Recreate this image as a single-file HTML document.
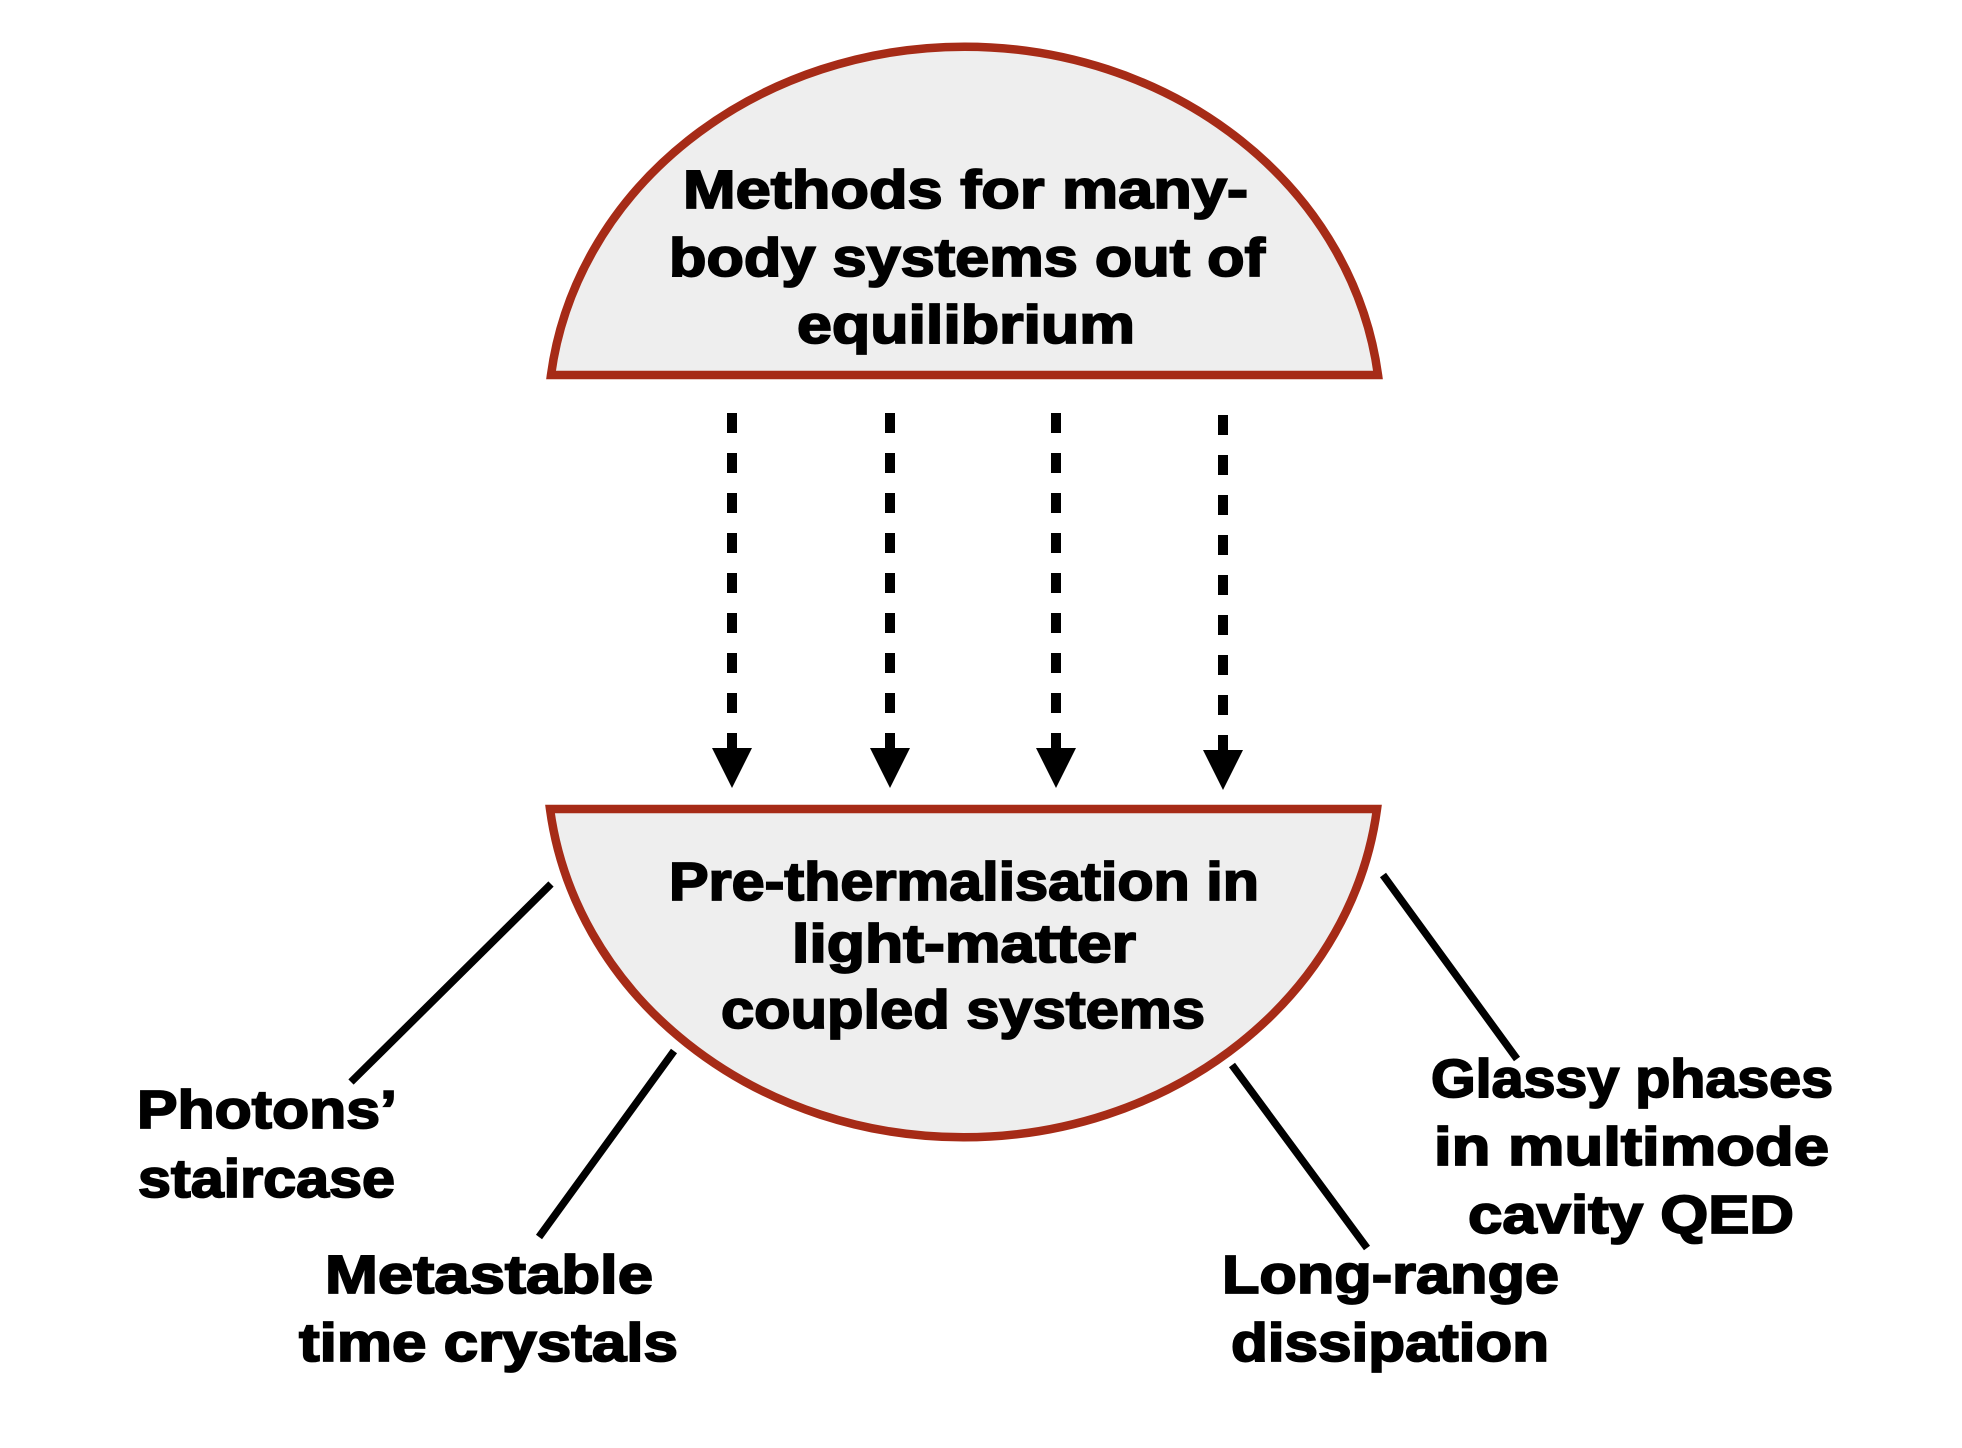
<!DOCTYPE html>
<html><head><meta charset="utf-8"><style>
html,body{margin:0;padding:0;background:#fff}
svg{display:block}
text{font-family:"Liberation Sans",sans-serif;font-weight:bold;font-size:54px;fill:#000;stroke:#000;stroke-width:1.8px}
</style></head><body>
<svg width="1962" height="1448" viewBox="0 0 1962 1448" xmlns="http://www.w3.org/2000/svg">
<rect width="1962" height="1448" fill="#fff"/>
<path d="M551 375 A416.5 373 0 0 1 1378 375 Z" fill="#eeeeee" stroke="#a62b17" stroke-width="8.5" stroke-linejoin="miter"/>
<path d="M550 809 A416.5 373 0 0 0 1377 809 Z" fill="#eeeeee" stroke="#a62b17" stroke-width="8.5" stroke-linejoin="miter"/>
<g stroke="#000" stroke-width="10" fill="none" stroke-dasharray="20 20">
<path d="M732 413V750"/><path d="M890 413V750"/><path d="M1056 413V750"/><path d="M1223 415V752"/>
</g>
<g fill="#000">
<rect x="727" y="733" width="10" height="16"/><rect x="885" y="733" width="10" height="16"/><rect x="1051" y="733" width="10" height="16"/><rect x="1218" y="735" width="10" height="16"/>
<path d="M712 748H752L732 788Z"/><path d="M870 748H910L890 788Z"/><path d="M1036 748H1076L1056 788Z"/><path d="M1203 750H1243L1223 790Z"/>
</g>
<g stroke="#000" stroke-width="7.5" fill="none">
<path d="M551 884L351 1082"/><path d="M674 1051L539 1237"/><path d="M1232 1065L1367 1248"/><path d="M1383 875L1517 1059"/>
</g>
<text x="683" y="208" textLength="565" lengthAdjust="spacingAndGlyphs">Methods for many-</text>
<text x="669" y="276" textLength="596" lengthAdjust="spacingAndGlyphs">body systems out of</text>
<text x="797" y="343" textLength="338" lengthAdjust="spacingAndGlyphs">equilibrium</text>
<text x="669" y="900" textLength="590" lengthAdjust="spacingAndGlyphs">Pre-thermalisation in</text>
<text x="792" y="962" textLength="344" lengthAdjust="spacingAndGlyphs">light-matter</text>
<text x="721" y="1028" textLength="484" lengthAdjust="spacingAndGlyphs">coupled systems</text>
<text x="137" y="1128" textLength="260" lengthAdjust="spacingAndGlyphs">Photons’</text>
<text x="138" y="1197" textLength="257" lengthAdjust="spacingAndGlyphs">staircase</text>
<text x="325" y="1293" textLength="328" lengthAdjust="spacingAndGlyphs">Metastable</text>
<text x="299" y="1361" textLength="379" lengthAdjust="spacingAndGlyphs">time crystals</text>
<text x="1431" y="1097" textLength="402" lengthAdjust="spacingAndGlyphs">Glassy phases</text>
<text x="1434" y="1165" textLength="395" lengthAdjust="spacingAndGlyphs">in multimode</text>
<text x="1468" y="1233" textLength="326" lengthAdjust="spacingAndGlyphs">cavity QED</text>
<text x="1222" y="1293" textLength="337" lengthAdjust="spacingAndGlyphs">Long-range</text>
<text x="1231" y="1361" textLength="318" lengthAdjust="spacingAndGlyphs">dissipation</text>
</svg>
</body></html>
